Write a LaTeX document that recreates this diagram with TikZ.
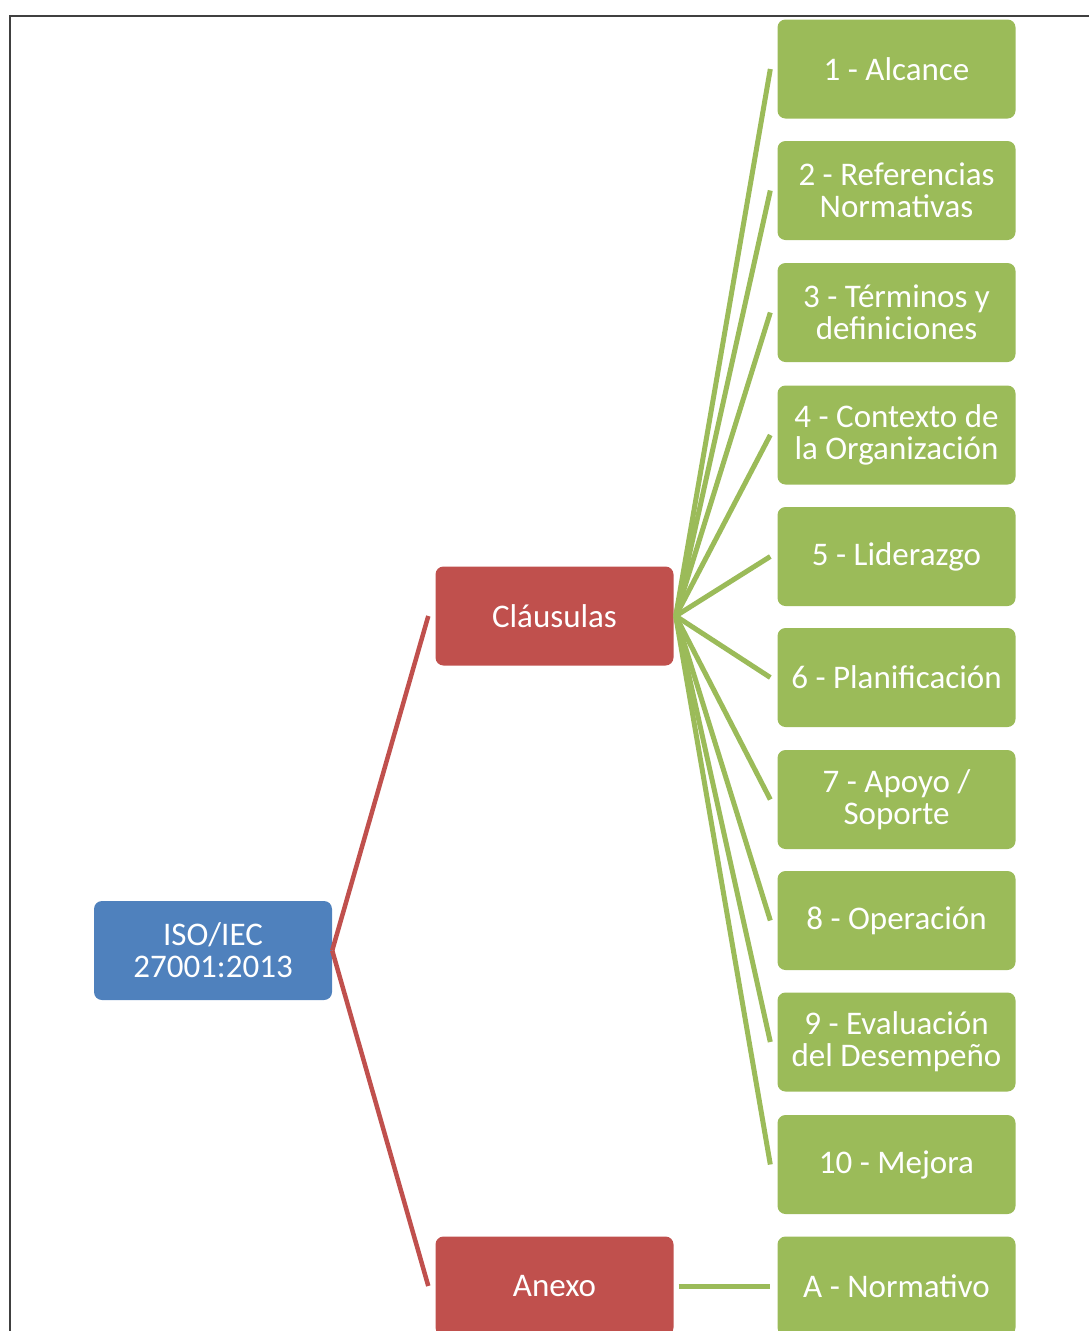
\documentclass[tikz,border=0pt]{standalone}
\usepackage{fontspec}
\setmainfont{Carlito}
\begin{document}
\begin{tikzpicture}[x=1pt,y=-1pt,
  box/.style={rectangle,rounded corners=8pt,minimum width=238pt,minimum height=99pt,
    inner sep=0pt,text=white,align=center,
    font=\fontsize{33}{32}\selectfont},
  rootbox/.style={box,fill=isoblue},
  groupbox/.style={box,fill=isored},
  leafbox/.style={box,fill=isogreen},
  redlink/.style={draw=isored,line width=4.5pt},
  greenlink/.style={draw=isogreen,line width=5pt}]
\definecolor{isoblue}{HTML}{4F81BD}
\definecolor{isored}{HTML}{C0504D}
\definecolor{isogreen}{HTML}{9BBB59}
\definecolor{framegray}{HTML}{404040}

\useasboundingbox (0,0) rectangle (1089,1331);
\clip (0,0) rectangle (1089,1331);

% outer frame (top and left edges visible)
\draw[framegray,line width=2.5pt] (10,1340) -- (10,16) -- (1095,16);

% root
\node[rootbox] (iso) at (213,950.5) {ISO/IEC\\27001:2013};

% groups
\node[groupbox] (cla) at (554.5,616) {Cláusulas};
\node[groupbox] (anx) at (554.5,1286) {Anexo};

% clauses
\node[leafbox] (c1)  at (896.5,69)     {1 - Alcance};
\node[leafbox] (c2)  at (896.5,190.5)  {2 - Referencias\\Normativas};
\node[leafbox] (c3)  at (896.5,312.5)  {3 - Términos y\\definiciones};
\node[leafbox] (c4)  at (896.5,435)    {4 - Contexto de\\la Organización};
\node[leafbox] (c5)  at (896.5,556.5)  {5 - Liderazgo};
\node[leafbox] (c6)  at (896.5,677.5)  {6 - Planificación};
\node[leafbox] (c7)  at (896.5,799.5)  {7 - Apoyo /\\Soporte};
\node[leafbox] (c8)  at (896.5,920.5)  {8 - Operación};
\node[leafbox] (c9)  at (896.5,1042)   {9 - Evaluación\\del Desempeño};
\node[leafbox] (c10) at (896.5,1164.5) {10 - Mejora};
\node[leafbox] (ca)  at (896.5,1286)   {A - Normativo};

% connectors: each ends a small gap before the box it reaches
\draw[redlink] (iso.east) -- ([xshift=-7pt]cla.west);
\draw[redlink] (iso.east) -- ([xshift=-7pt]anx.west);
\foreach \n in {c1,c2,c3,c4,c5,c6,c7,c8,c9,c10}
  \draw[greenlink] ([xshift=2pt]cla.east) -- ([xshift=-7pt]\n.west);
\draw[greenlink] ([xshift=5pt]anx.east) -- ([xshift=-7pt]ca.west);
\end{tikzpicture}
\end{document}
